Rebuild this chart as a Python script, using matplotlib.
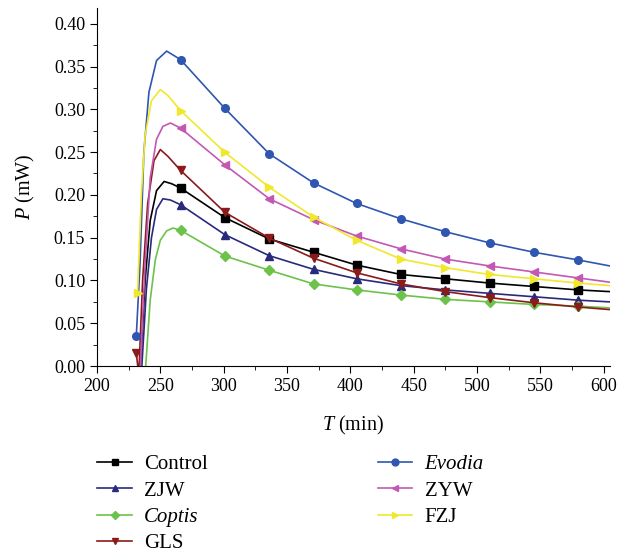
import matplotlib
matplotlib.use("Agg")
import matplotlib.pyplot as plt
from matplotlib.ticker import MultipleLocator

plt.rcParams["font.family"] = ["Liberation Serif", "DejaVu Serif"]
plt.rcParams["mathtext.fontset"] = "custom"
plt.rcParams["mathtext.rm"] = "Liberation Serif"
plt.rcParams["mathtext.it"] = "Liberation Serif:italic"

# marker times shared by every series (min)
t_marks = [266, 301, 336, 371, 405, 440, 475, 510, 545, 580, 605]

control_t = [234, 238, 242, 247, 253, 259]
control_p = [-0.01, 0.10, 0.17, 0.205, 0.2157, 0.213]
control_m = [0.208, 0.1734, 0.1485, 0.133, 0.118, 0.107, 0.102, 0.097, 0.093, 0.089, 0.087]

zjw_t = [235, 239, 243, 247, 252, 258]
zjw_p = [-0.01, 0.09, 0.15, 0.183, 0.1955, 0.194]
zjw_m = [0.1885, 0.1535, 0.129, 0.113, 0.102, 0.094, 0.089, 0.085, 0.081, 0.077, 0.075]

coptis_t = [238, 242, 246, 250, 255, 260]
coptis_p = [-0.01, 0.077, 0.124, 0.147, 0.158, 0.1613]
coptis_m = [0.1586, 0.1286, 0.112, 0.096, 0.089, 0.083, 0.078, 0.075, 0.072, 0.070, 0.068]

gls_t = [231, 233, 236, 240, 245, 250, 256]
gls_p = [0.015, -0.01, 0.10, 0.19, 0.24, 0.253, 0.245]
gls_m = [0.2286, 0.1796, 0.1496, 0.126, 0.109, 0.096, 0.087, 0.080, 0.074, 0.069, 0.066]

evodia_t = [231, 234, 237, 241, 247, 255]
evodia_p = [0.035, 0.12, 0.25, 0.32, 0.357, 0.368]
evodia_m = [0.358, 0.301, 0.248, 0.214, 0.190, 0.172, 0.157, 0.144, 0.133, 0.124, 0.117]

zyw_t = [234, 238, 242, 247, 252, 258]
zyw_p = [-0.01, 0.12, 0.22, 0.265, 0.28, 0.284]
zyw_m = [0.278, 0.235, 0.1955, 0.171, 0.152, 0.137, 0.125, 0.117, 0.110, 0.103, 0.098]

fzj_t = [232, 235, 238, 243, 250, 256]
fzj_p = [0.0855, 0.20, 0.27, 0.31, 0.323, 0.316]
fzj_m = [0.2985, 0.2496, 0.209, 0.174, 0.147, 0.125, 0.115, 0.107, 0.102, 0.097, 0.094]

series = [
    ("Control", control_t, control_p, control_m, "#000000", "s", False),
    ("ZJW", zjw_t, zjw_p, zjw_m, "#2a2a7c", "^", False),
    ("Coptis", coptis_t, coptis_p, coptis_m, "#6cc24a", "D", True),
    ("GLS", gls_t, gls_p, gls_m, "#8b1a1a", "v", False),
    ("Evodia", evodia_t, evodia_p, evodia_m, "#2f56b0", "o", True),
    ("ZYW", zyw_t, zyw_p, zyw_m, "#c358b4", "<", False),
    ("FZJ", fzj_t, fzj_p, fzj_m, "#f0e82c", ">", False),
]

fig = plt.figure(figsize=(6.3, 5.53), dpi=100)
ax = fig.add_axes([0.154, 0.338, 0.814, 0.647])

for name, tt, pp, mm, color, marker, _ in series:
    x = tt + t_marks
    y = pp + mm
    marks = [i for i in range(len(x)) if x[i] in t_marks[:-1]]
    if pp[0] > 0:
        marks = [0] + marks
    ms = 5 if marker == "D" else 5.5
    ax.plot(x, y, color=color, lw=1.2, marker=marker, ms=ms,
            markevery=marks, label=name)

ax.set_xlim(200, 605)
ax.set_ylim(0, 0.418)
ax.xaxis.set_major_locator(MultipleLocator(50))
ax.xaxis.set_minor_locator(MultipleLocator(25))
ax.yaxis.set_major_locator(MultipleLocator(0.05))
ax.yaxis.set_minor_locator(MultipleLocator(0.025))
ax.yaxis.set_major_formatter(plt.FormatStrFormatter("%.2f"))
ax.tick_params(which="both", direction="out", labelsize=13)
ax.tick_params(which="major", length=5)
ax.tick_params(which="minor", length=3)
for s in ("top", "right"):
    ax.spines[s].set_visible(False)

ax.set_xlabel("$T$ (min)", fontsize=14.5, labelpad=14)
ax.set_ylabel("$P$ (mW)", fontsize=14.5, labelpad=12)

handles, labels = ax.get_legend_handles_labels()
leg = fig.legend(handles, labels, ncol=2, loc="upper left",
                 bbox_to_anchor=(0.138, 0.197), frameon=False, borderpad=0,
                 fontsize=15, handlelength=1.65, columnspacing=8.15,
                 labelspacing=0.33, handletextpad=0.6, markerscale=0.9)
for text, s in zip(leg.get_texts(), series):
    if s[6]:
        text.set_style("italic")

fig.savefig("out.png", dpi=100)
